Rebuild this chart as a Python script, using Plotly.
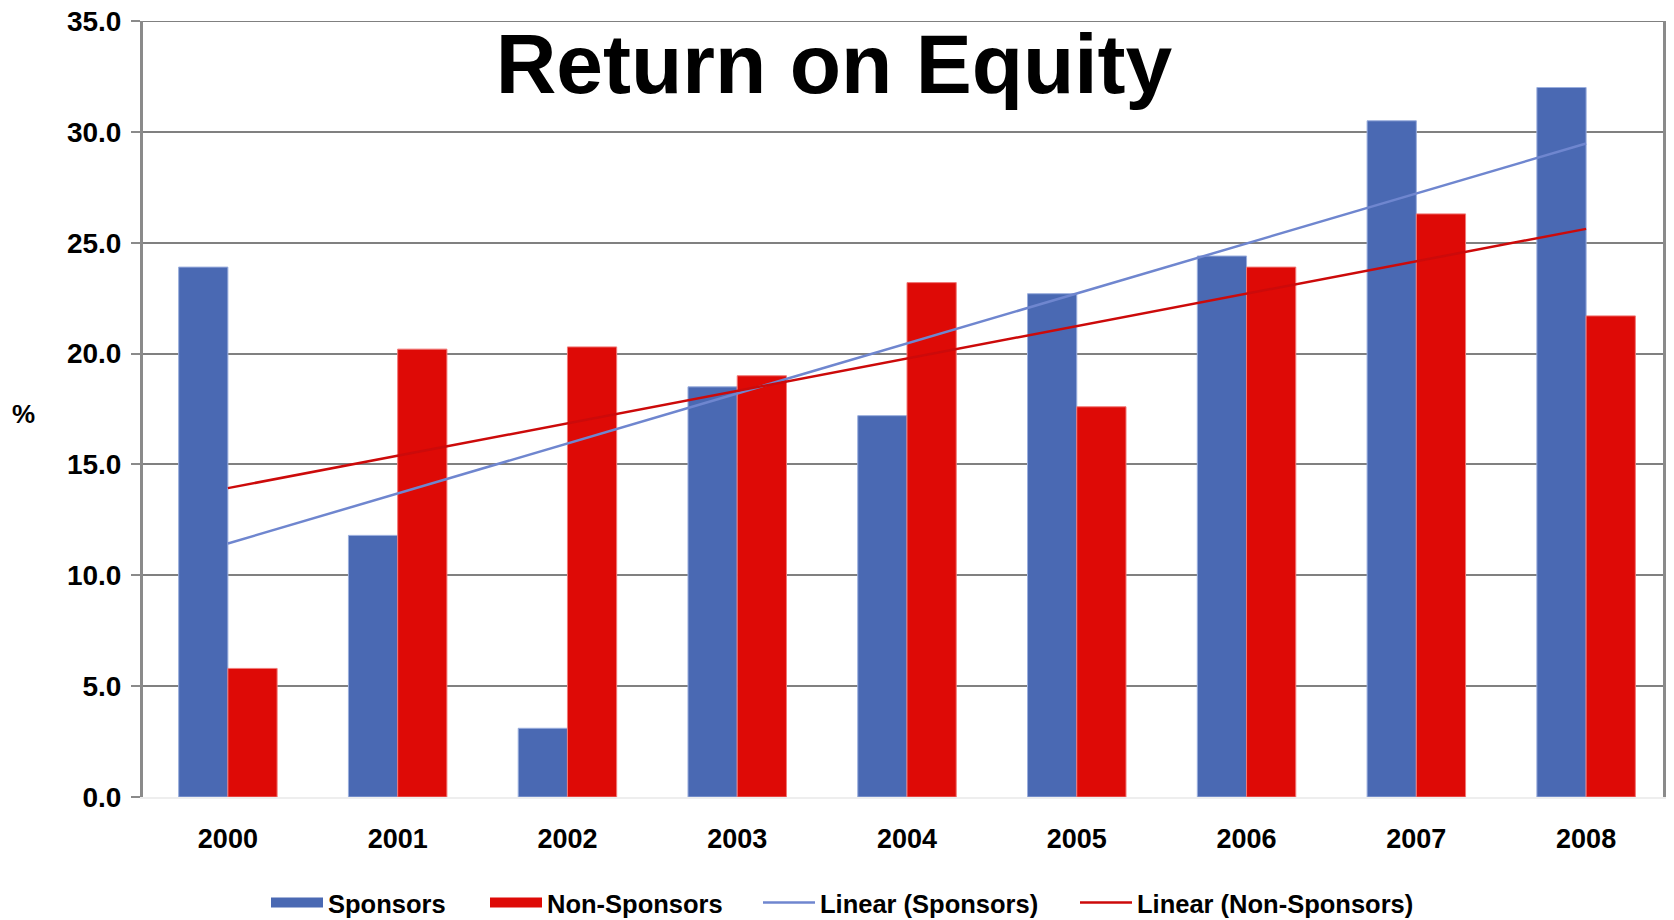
import numpy as np
import plotly.graph_objects as go

years = ["2000", "2001", "2002", "2003", "2004", "2005", "2006", "2007", "2008"]
sponsors = [23.9, 11.8, 3.1, 18.5, 17.2, 22.7, 24.4, 30.5, 32.0]
non_sponsors = [5.8, 20.2, 20.3, 19.0, 23.2, 17.6, 23.9, 26.3, 21.7]
y_ticks = [0, 5, 10, 15, 20, 25, 30, 35]

BLUE = "#4A69B3"
RED = "#DE0A06"
TREND_BLUE = "#6F86CF"
TREND_RED = "#CC0A0A"
GRID = "#808080"
FONT = "Liberation Sans, Arial, sans-serif"

W, H = 1666, 912  # page body adds 8px margin around the figure
ML, MR, MT, MB = 135, 3, 13, 123

idx = np.arange(len(years))
sp_fit = np.polyval(np.polyfit(idx, sponsors, 1), idx)
ns_fit = np.polyval(np.polyfit(idx, non_sponsors, 1), idx)

fig = go.Figure()
fig.add_trace(go.Bar(x=years, y=sponsors, name="Sponsors", showlegend=False,
                     marker=dict(color=BLUE, line=dict(color="#9AAEDD", width=1))))
fig.add_trace(go.Bar(x=years, y=non_sponsors, name="Non-Sponsors", showlegend=False,
                     marker=dict(color=RED, line=dict(color="#F07A78", width=1))))
fig.add_trace(go.Scatter(x=years, y=sp_fit, mode="lines", name="Linear (Sponsors)",
                         line=dict(color=TREND_BLUE, width=2.5), legend="legend3"))
fig.add_trace(go.Scatter(x=years, y=ns_fit, mode="lines", name="Linear (Non-Sponsors)",
                         line=dict(color=TREND_RED, width=2.5), legend="legend4"))
# legend swatches for the bar series
fig.add_trace(go.Scatter(x=[None], y=[None], mode="lines", name="Sponsors",
                         line=dict(color=BLUE, width=18), legend="legend"))
fig.add_trace(go.Scatter(x=[None], y=[None], mode="lines", name="Non-Sponsors",
                         line=dict(color=RED, width=18), legend="legend2"))

legend_font = dict(family=FONT, size=25.5, weight="bold", color="black")
legend_y = 1 - 895 / H
legend_left = [264, 483, 756, 1073]


def leg(xpx):
    return dict(orientation="h", xref="container", x=(xpx - 6) / W, xanchor="left",
                yref="container", y=legend_y, yanchor="middle",
                font=legend_font, itemwidth=52, bgcolor="rgba(0,0,0,0)",
                borderwidth=0)


fig.update_layout(
    width=W, height=H,
    margin=dict(l=ML, r=MR, t=MT, b=MB, autoexpand=False),
    paper_bgcolor="white", plot_bgcolor="white",
    barmode="group", bargap=0.42, bargroupgap=0,
    font=dict(family=FONT, color="black"),
    title=dict(text="Return on Equity", x=(834 - 8) / W, xref="container", xanchor="center",
               y=1 - 56 / H, yref="container", yanchor="middle",
               font=dict(family=FONT, size=84, weight="bold", color="black")),
    legend=leg(legend_left[0]),
    legend2=leg(legend_left[1]),
    legend3=leg(legend_left[2]),
    legend4=leg(legend_left[3]),
    showlegend=True,
)
fig.update_yaxes(range=[0, 35], tickvals=y_ticks, tickformat=".1f",
                 showgrid=True, gridcolor=GRID, gridwidth=2, automargin=False,
                 showline=True, linecolor="#8A8A8A", linewidth=3, mirror=False,
                 ticks="outside", ticklen=9, tickcolor="#8A8A8A", tickwidth=2,
                 ticklabelstandoff=4, ticklabeloverflow="allow",
                 tickfont=dict(family=FONT, size=28, weight="bold", color="black"),
                 zeroline=False, fixedrange=True)
fig.update_xaxes(showline=True, linecolor="#EEEEEE", linewidth=2, automargin=False,
                 ticks="", ticklabelstandoff=17,
                 tickfont=dict(family=FONT, size=27, weight="bold", color="black"),
                 showgrid=False)
plot_w = W - ML - MR
# top gridline (at the edge of the plot area) and right border of the plot area
fig.add_shape(type="line", xref="paper", yref="y", x0=0, x1=1, y0=y_ticks[-1], y1=y_ticks[-1],
              line=dict(color=GRID, width=2), layer="below")
border_x = (1656.5 - ML) / plot_w
fig.add_shape(type="line", xref="paper", yref="paper", x0=border_x, x1=border_x, y0=0, y1=1,
              line=dict(color="#8A8A8A", width=3))
fig.add_annotation(text="%", xref="paper", yref="paper", x=(15 - ML) / plot_w, y=0.494,
                   showarrow=False, xanchor="center", yanchor="middle",
                   font=dict(family=FONT, size=26, weight="bold", color="black"))

fig.write_html("out.html")
